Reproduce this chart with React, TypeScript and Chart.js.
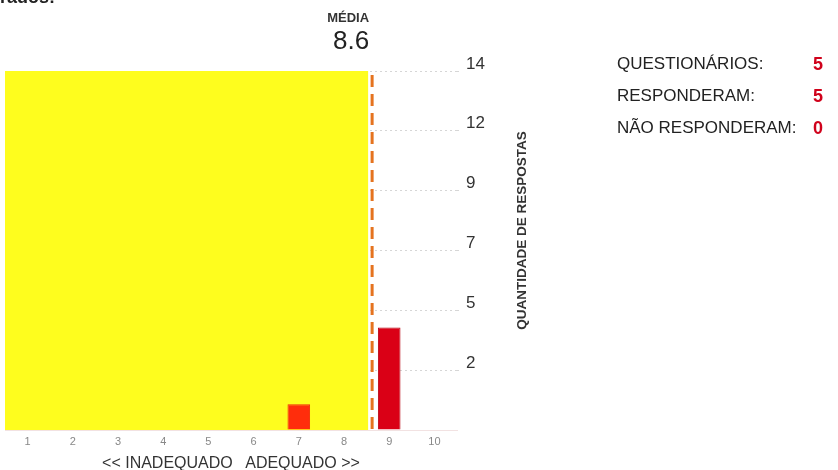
import React, { useEffect, useRef } from "react";
import { Chart, registerables } from "chart.js";

Chart.register(...registerables);

// ---- data ----
const categories = ["1", "2", "3", "4", "5", "6", "7", "8", "9", "10"];
const counts = [0, 0, 0, 0, 0, 0, 1, 0, 4, 0];
const yTickValues = [0, 2.33, 4.67, 7, 9.33, 11.67, 14];
const yMax = 14;
const questionnaires = 5;
const responded = counts.reduce((a, b) => a + b, 0);
const notResponded = questionnaires - responded;
const mean =
  counts.reduce((s, c, i) => s + c * Number(categories[i]), 0) / responded;

const FONT = "'Liberation Sans', Arial, Helvetica, sans-serif";

export default function App() {
  const canvasRef = useRef<HTMLCanvasElement | null>(null);

  useEffect(() => {
    const canvas = canvasRef.current;
    if (!canvas) return;

    const meanPlugin = {
      id: "meanPlugin",
      beforeDatasetsDraw(chart: any) {
        const { ctx, chartArea, scales } = chart;
        const mx = scales.x.getPixelForValue(mean - 1);
        ctx.save();
        ctx.fillStyle = "#fefd1e";
        ctx.fillRect(
          chartArea.left,
          chartArea.top,
          mx - 3 - chartArea.left,
          chartArea.bottom - chartArea.top
        );
        ctx.restore();
      },
      afterDatasetsDraw(chart: any) {
        const { ctx, chartArea, scales } = chart;
        const mx = scales.x.getPixelForValue(mean - 1);
        ctx.save();
        ctx.strokeStyle = "#e5731f";
        ctx.lineWidth = 3;
        ctx.setLineDash([12, 7]);
        ctx.lineDashOffset = -4;
        ctx.beginPath();
        ctx.moveTo(mx + 1, chartArea.top);
        ctx.lineTo(mx + 1, chartArea.bottom);
        ctx.stroke();
        ctx.setLineDash([]);
        ctx.textAlign = "right";
        ctx.textBaseline = "middle";
        ctx.fillStyle = "#333";
        ctx.font = `bold 13px ${FONT}`;
        ctx.fillText("MÉDIA", mx - 2, 18);
        ctx.fillStyle = "#222";
        ctx.font = `26px ${FONT}`;
        ctx.fillText(mean.toFixed(1), mx - 2, 42);
        // rotated y-axis title
        ctx.save();
        ctx.translate(522, (chartArea.top + chartArea.bottom) / 2 - 20);
        ctx.rotate(-Math.PI / 2);
        ctx.textAlign = "center";
        ctx.fillStyle = "#333";
        ctx.font = `bold 13.5px ${FONT}`;
        ctx.fillText("QUANTIDADE DE RESPOSTAS", 0, 0);
        ctx.restore();
        ctx.restore();
      },
    };

    const chart = new Chart(canvas, {
      type: "bar",
      data: {
        labels: categories,
        datasets: [
          {
            data: counts,
            backgroundColor: categories.map((_, i) =>
              i === 6 ? "#ff2d0c" : "#da0016"
            ),
            borderColor: categories.map((_, i) =>
              i === 6 ? "#f02a0c" : "#b8000f"
            ),
            borderWidth: 1,
            barPercentage: 0.5,
            categoryPercentage: 1,
          },
        ],
      },
      options: {
        responsive: false,
        animation: false,
        events: [],
        layout: { padding: { left: 5, right: 341, top: 71, bottom: 0 } },
        plugins: {
          legend: { display: false },
          tooltip: { enabled: false },
          title: { display: false },
        },
        scales: {
          x: {
            type: "category",
            offset: true,
            grid: { display: false, drawTicks: false },
            border: { display: true, color: "#f2e2e2", width: 1 },
            ticks: {
              color: "#888",
              font: { size: 11, family: FONT },
              padding: 5,
              maxRotation: 0,
            },
            afterFit: (s: any) => {
              s.height = 40;
            },
          },
          y: {
            position: "right",
            min: 0,
            max: yMax,
            afterBuildTicks: (s: any) => {
              s.ticks = yTickValues.map((v) => ({ value: v }));
            },
            afterFit: (s: any) => {
              s.width = 40;
            },
            border: { display: false, dash: [2, 3] },
            grid: {
              color: (c: any) =>
                c.tick && c.tick.value === 0 ? "rgba(0,0,0,0)" : "#d6d6d6",
              tickColor: (c: any) =>
                c.tick && c.tick.value === 0 ? "rgba(0,0,0,0)" : "#d6d6d6",
              tickLength: 5,
              tickBorderDash: [2, 3],
              lineWidth: 1,
            },
            ticks: {
              color: "#333",
              font: { size: 17, family: FONT },
              padding: 4,
              labelOffset: -7,
              callback: (v: any) =>
                Number(v) === 0 ? "" : String(Math.round(Number(v))),
            },
          },
        },
      },
      plugins: [meanPlugin],
    });

    return () => chart.destroy();
  }, []);

  const rowStyle = (top: number): React.CSSProperties => ({
    position: "absolute",
    left: 617,
    top,
    width: 220,
    height: 20,
    fontFamily: FONT,
    fontSize: 17,
    color: "#222",
    lineHeight: "20px",
    whiteSpace: "nowrap",
  });
  const valStyle: React.CSSProperties = {
    position: "absolute",
    left: 196,
    top: 0,
    color: "#d0021b",
    fontWeight: "bold",
    fontSize: 18,
  };

  return (
    <div
      style={{
        position: "fixed",
        left: 0,
        top: 0,
        width: 838,
        height: 470,
        background: "#fff",
        overflow: "hidden",
      }}
    >
      <div
        style={{
          position: "absolute",
          left: 0,
          top: -12,
          fontFamily: FONT,
          fontWeight: "bold",
          fontSize: 18,
          lineHeight: "18px",
          color: "#222",
        }}
      >
        rados:
      </div>
      <canvas
        ref={canvasRef}
        width={838}
        height={470}
        style={{ display: "block" }}
      />
      <div
        style={{
          position: "absolute",
          left: 5,
          width: 452,
          top: 453,
          textAlign: "center",
          fontFamily: FONT,
          fontSize: 16,
          lineHeight: "20px",
          color: "#333",
          whiteSpace: "pre",
        }}
      >
        {"<< INADEQUADO   ADEQUADO >>"}
      </div>
      <div style={rowStyle(54)}>
        QUESTIONÁRIOS:<span style={valStyle}>{questionnaires}</span>
      </div>
      <div style={rowStyle(86)}>
        RESPONDERAM:<span style={valStyle}>{responded}</span>
      </div>
      <div style={rowStyle(118)}>
        NÃO RESPONDERAM:<span style={valStyle}>{notResponded}</span>
      </div>
    </div>
  );
}
